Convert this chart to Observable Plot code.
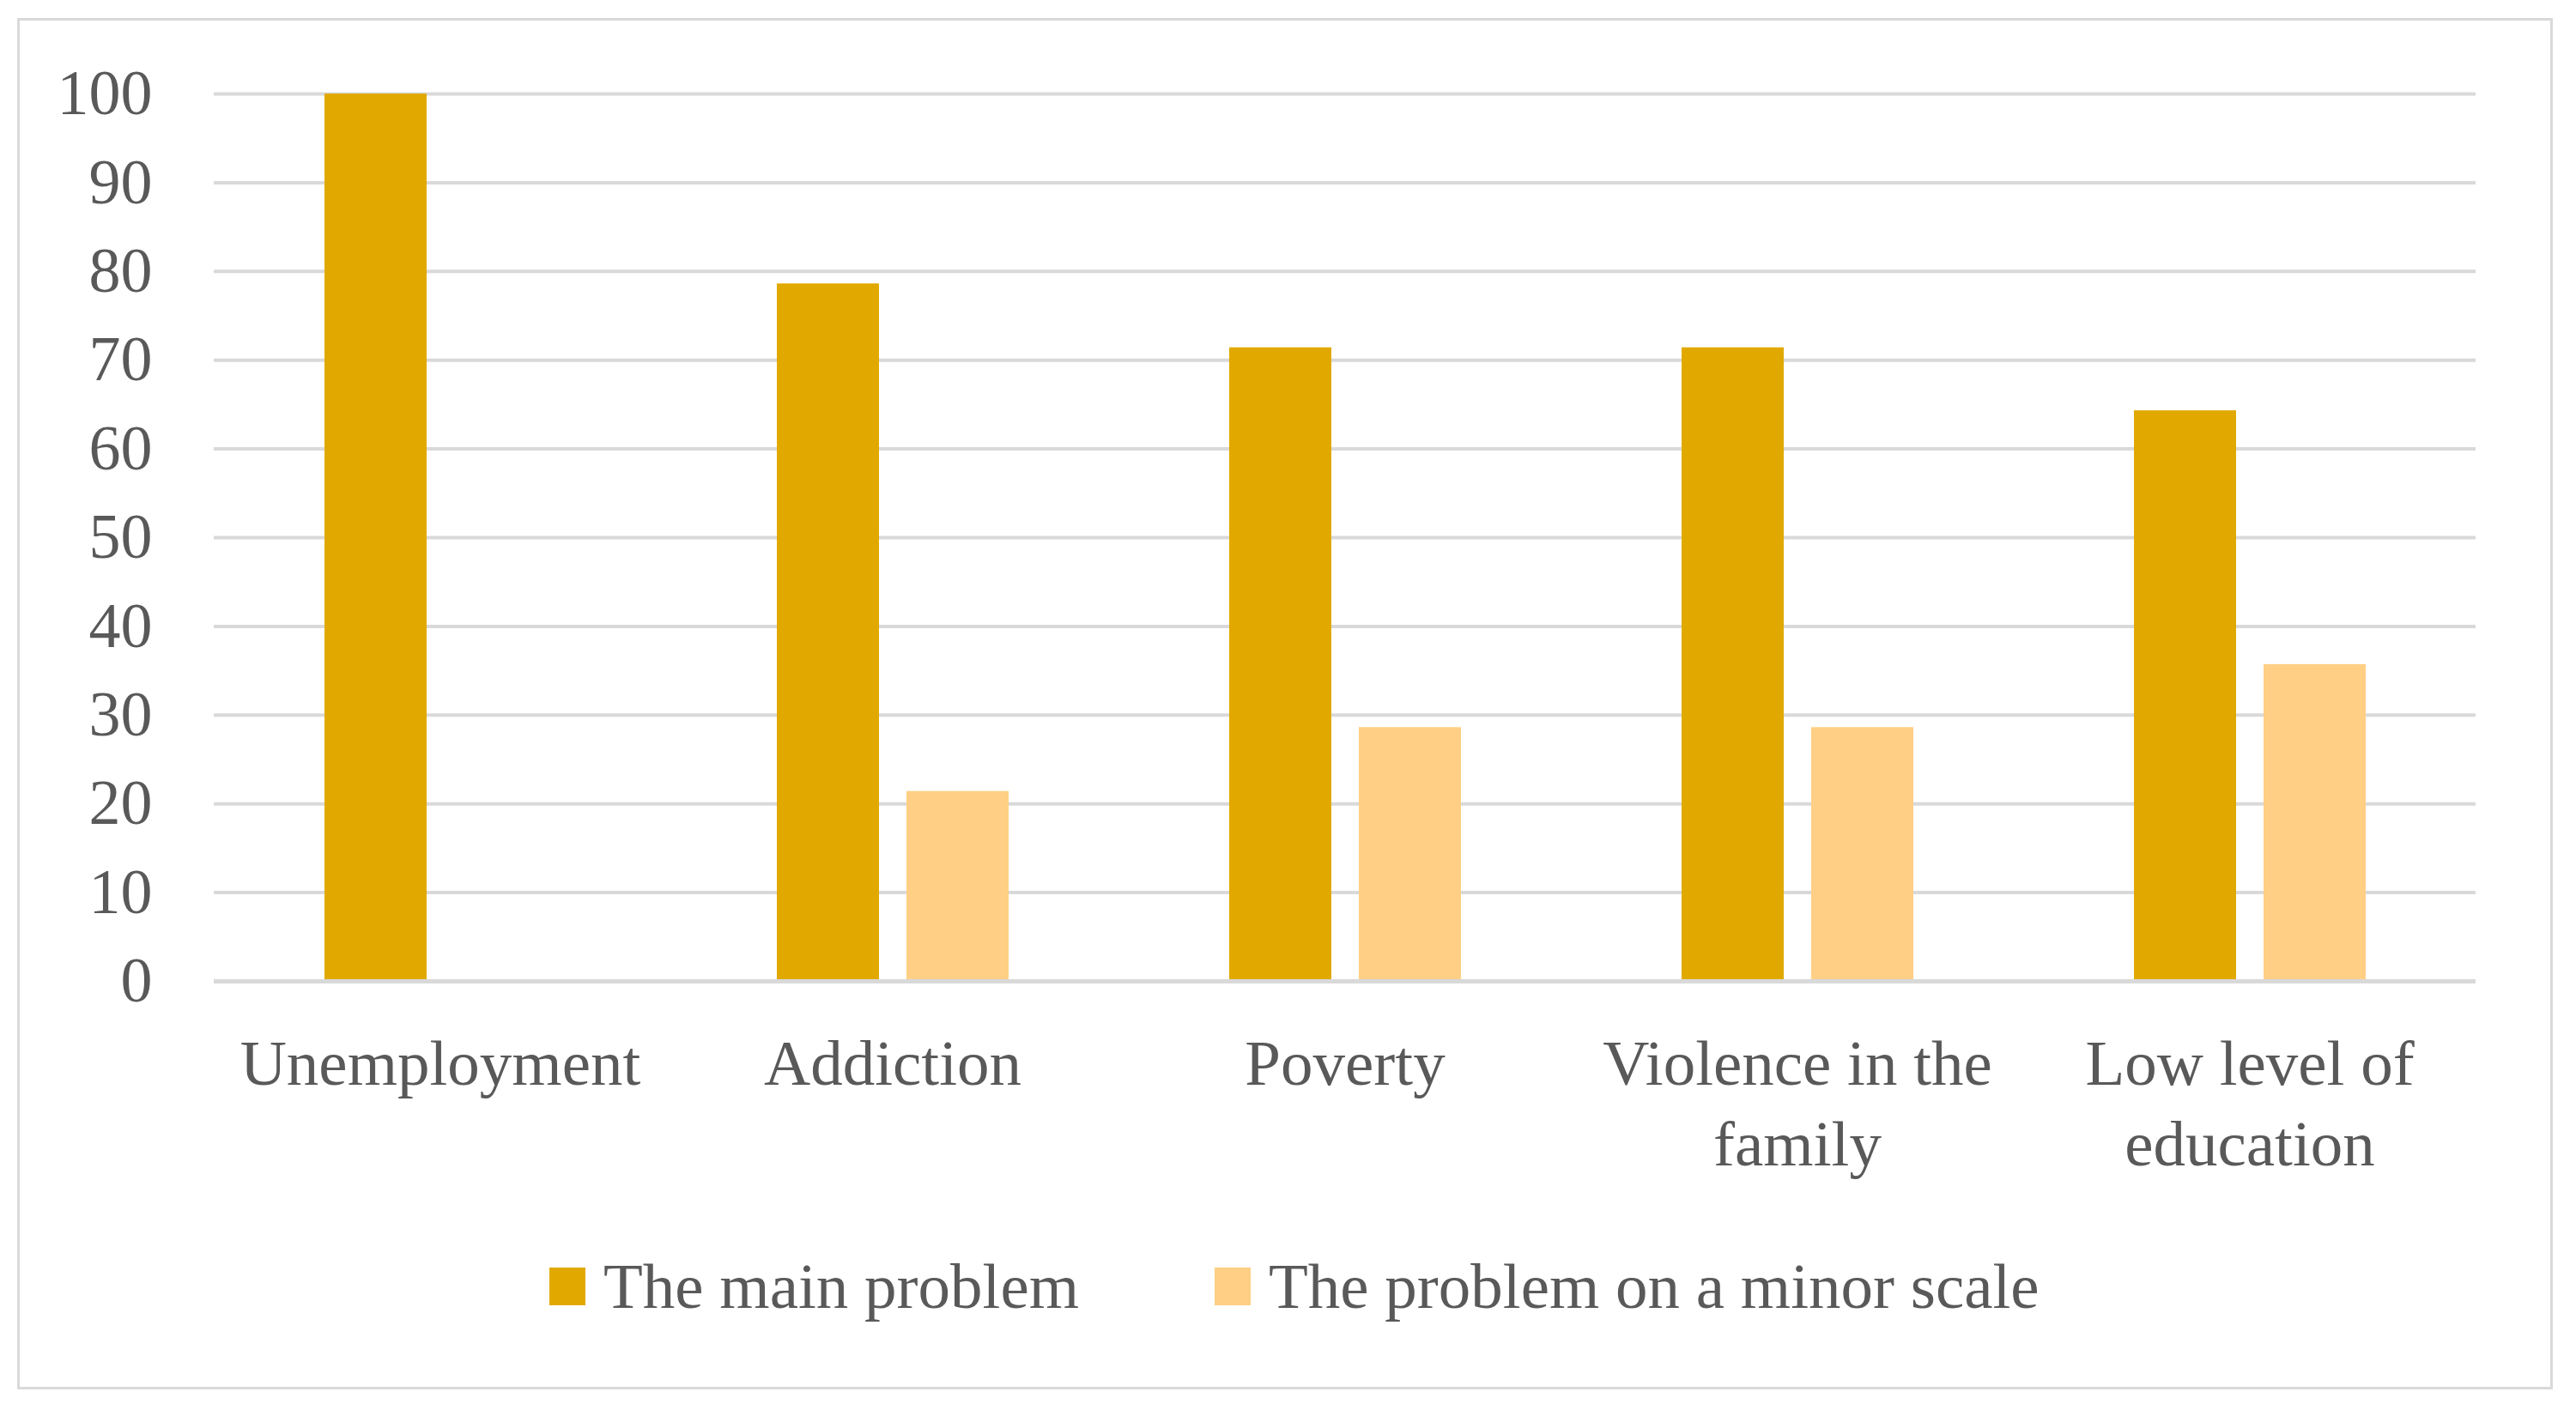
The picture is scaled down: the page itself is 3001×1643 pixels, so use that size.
<!DOCTYPE html>
<html><head><meta charset="utf-8">
<script src="https://cdn.jsdelivr.net/npm/d3@7"></script>
<script src="https://cdn.jsdelivr.net/npm/@observablehq/plot@0.6"></script>
<style>
body{margin:0;background:#fff;width:3001px;height:1643px;position:relative;overflow:hidden;font-family:"Liberation Serif",serif;}
#frame{position:absolute;left:20px;top:21px;width:2954px;height:1598px;border:3px solid #d9d9d9;box-sizing:border-box;}
#chart{position:absolute;left:0;top:0;}
#legend{position:absolute;top:1462px;left:640px;display:flex;align-items:center;font-size:75px;line-height:74px;color:#595959;white-space:nowrap;}
#legend .sw{width:42px;height:44px;margin-right:21px;}
#legend .item{display:flex;align-items:center;}
#legend .item + .item{margin-left:158px;}
</style></head><body>
<div id="frame"></div><div id="chart"></div><div id="legend"></div>
<script>
const categories = ["Unemployment", "Addiction", "Poverty", "Violence in the family", "Low level of education"];
const categoryLabels = ["Unemployment", "Addiction", "Poverty", "Violence in the\nfamily", "Low level of\neducation"];
const seriesNames = ["The main problem", "The problem on a minor scale"];
const mainProblem = [100, 78.6, 71.4, 71.4, 64.3];
const minorProblem = [0, 21.4, 28.6, 28.6, 35.7];
const seriesColors = ["#e1a900", "#fecf84"];
const yTicks = [0, 10, 20, 30, 40, 50, 60, 70, 80, 90, 100];

const rows = [];
categories.forEach((c, i) => {
  rows.push({category: c, series: seriesNames[0], value: mainProblem[i]});
  rows.push({category: c, series: seriesNames[1], value: minorProblem[i]});
});
const labelOf = new Map(categories.map((c, i) => [c, categoryLabels[i]]));

const chart = Plot.plot({
  width: 3001,
  height: 1420,
  marginLeft: 249,
  marginRight: 117,
  marginTop: 109,
  marginBottom: 277,
  style: {fontFamily: '"Liberation Serif", serif', fontSize: "74px", color: "#595959", background: "transparent"},
  fx: {domain: categories, padding: 0, label: null},
  x: {domain: seriesNames, paddingInner: 0.212, paddingOuter: 0.851, axis: null},
  y: {domain: [0, 100], label: null},
  color: {domain: seriesNames, range: seriesColors},
  marks: [
    Plot.gridY(yTicks, {stroke: "#d9d9d9", strokeOpacity: 1, strokeWidth: 4}),
    Plot.barY(rows, {fx: "category", x: "series", y: "value", fill: "series"}),
    Plot.ruleY([0], {stroke: "#d9d9d9", strokeWidth: 5}),
    Plot.axisY(yTicks, {tickSize: 0, tickPadding: 72, fontSize: 74, fill: "#595959", label: null}),
    Plot.axisFx({anchor: "bottom", tickSize: 0, tickPadding: 54, fontSize: 75, fill: "#595959", lineHeight: 1.25, label: null, tickFormat: d => labelOf.get(d)})
  ]
});
document.getElementById("chart").appendChild(chart);

const legend = document.getElementById("legend");
seriesNames.forEach((name, i) => {
  const item = document.createElement("div");
  item.className = "item";
  const sw = document.createElement("div");
  sw.className = "sw";
  sw.style.background = seriesColors[i];
  const t = document.createElement("span");
  t.textContent = name;
  item.appendChild(sw);
  item.appendChild(t);
  legend.appendChild(item);
});
</script>
</body></html>
